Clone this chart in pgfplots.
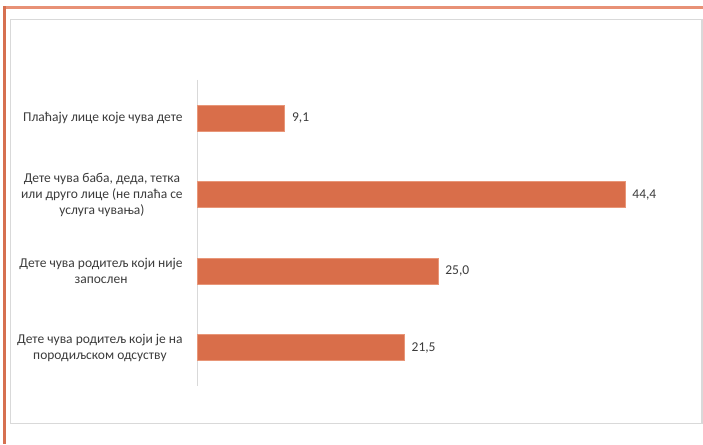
\documentclass[border=0pt]{standalone}
\usepackage{pgfplots}
\pgfplotsset{compat=1.18}
\usepackage{fontspec}
\setmainfont{Carlito}
\definecolor{barfill}{RGB}{217,110,74}
\definecolor{barline}{RGB}{232,150,120}
\definecolor{txt}{RGB}{60,60,60}
\definecolor{framegray}{RGB}{217,217,217}
\definecolor{orangeL}{RGB}{214,112,80}
\definecolor{orangeT}{RGB}{232,145,118}
\begin{document}
\begin{tikzpicture}[x=1pt,y=1pt]
\useasboundingbox (0,0) rectangle (703,444);
\fill[white] (0,0) rectangle (703,444);
% frames
\draw[framegray, line width=1.8pt] (10.5,20.5) rectangle (702,424.5);
\draw[orangeT, line width=3pt] (3,436) -- (703,436);
\draw[orangeL, line width=3pt] (4.5,437.5) -- (4.5,0);
\begin{axis}[
  at={(197pt,58pt)}, anchor=south west,
  scale only axis, width=482pt, height=306pt,
  xbar, bar width=26pt,
  xmin=0, xmax=50,
  ymin=-0.5, ymax=3.5, y dir=reverse,
  axis x line=none,
  axis y line=left,
  axis line style={-, framegray, line width=1pt},
  xtick=\empty,
  ytick={0,1,2,3},
  ytick style={draw=none},
  yticklabels={
    {Плаћају лице које чува дете},
    {Дете чува баба, деда, тетка\\или друго лице (не плаћа се\\услуга чувања)},
    {Дете чува родитељ који није\\запослен},
    {Дете чува родитељ који је на\\породиљском одсуству}},
  yticklabel style={font=\fontsize{13.5}{16}\selectfont, text=txt, align=center, inner sep=0pt, xshift=-12pt},
  nodes near coords,
  nodes near coords style={font=\fontsize{13.5}{16}\selectfont, text=txt, anchor=west, inner sep=0pt, xshift=7pt},
  /pgf/number format/.cd, fixed, fixed zerofill, precision=1, use comma, assume math mode=true,
]
\addplot[fill=barfill, draw=barline, line width=0.8pt] coordinates {(9.1,0) (44.4,1) (25.0,2) (21.5,3)};
\end{axis}
\end{tikzpicture}
\end{document}
